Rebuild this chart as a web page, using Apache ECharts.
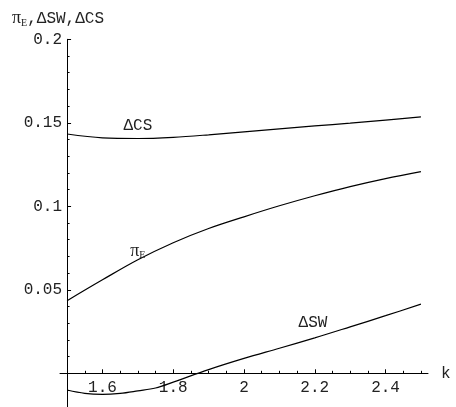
<!DOCTYPE html>
<html>
<head>
<meta charset="utf-8">
<script src="https://cdn.jsdelivr.net/npm/echarts@6/dist/echarts.min.js"></script>
<style>
html,body{margin:0;padding:0;background:#fff;}
#c{width:456px;height:407px;}
</style>
</head>
<body>
<div id="c"></div>
<script>
// ---- data ----
const kValues = [1.5, 1.6, 1.7, 1.8, 1.9, 2.0, 2.1, 2.2, 2.3, 2.4, 2.5];
const piE = [0.0435, 0.0560, 0.0680, 0.0782, 0.0867, 0.0937, 0.1003, 0.1063, 0.1118, 0.1166, 0.1208];
const deltaCS = [0.1433, 0.1410, 0.1406, 0.1413, 0.1428, 0.1446, 0.1464, 0.1481, 0.1498, 0.1516, 0.1535];
const kSW = [1.5, 1.55, 1.6, 1.65, 1.7, 1.75, 1.8, 1.9, 2.0, 2.1, 2.2, 2.3, 2.4, 2.5];
const deltaSW = [-0.0100, -0.0120, -0.0126, -0.0120, -0.0105, -0.0088, -0.0053, 0.0022, 0.0089, 0.0150, 0.0212, 0.0278, 0.0345, 0.0414];

const xMajorTicks = [1.6, 1.8, 2, 2.2, 2.4];
const xMinorTicks = [1.55, 1.65, 1.7, 1.75, 1.85, 1.9, 1.95, 2.05, 2.1, 2.15, 2.25, 2.3, 2.35, 2.45, 2.5];
const yMajorTicks = [0.05, 0.1, 0.15, 0.2];
const yMinorTicks = [-0.01, 0.01, 0.02, 0.03, 0.04, 0.06, 0.07, 0.08, 0.09, 0.11, 0.12, 0.13, 0.14, 0.16, 0.17, 0.18, 0.19];

const xMin = 1.48, xMax = 2.52, yMin = -0.02, yMax = 0.2, yAxisAt = 1.5, xAxisAt = 0;

// ---- layout ----
const gridLeft = 60, gridWidth = 368, gridTop = 39.3, gridHeight = 367.4;
const yOffset = -((yAxisAt - xMin) / (xMax - xMin)) * gridWidth;
const xOffset = -((xAxisAt - yMin) / (yMax - yMin)) * gridHeight;
const mono = 'Liberation Mono';
const ink = '#000';
const textInk = '#222';

function pairs(xs, ys) { return xs.map((x, i) => [x, ys[i]]); }

const chart = echarts.init(document.getElementById('c'), null, {renderer: 'canvas'});

const richText = {
  pi: {fontFamily: 'Liberation Serif', fontSize: 18, color: textInk},
  sub: {fontFamily: 'Liberation Serif', fontSize: 10, color: textInk, padding: [9, 0, 0, 0]}
};

const lineStyle = {color: ink, width: 1.2};
function curve(name, data, label, coord) {
  return {
    name, type: 'line', data, smooth: 0.35, showSymbol: false, symbol: 'none',
    lineStyle, xAxisIndex: 0, yAxisIndex: 0, silent: true,
    markPoint: {
      symbol: 'rect', symbolSize: 1, itemStyle: {color: 'rgba(0,0,0,0)'},
      label: {
        show: true, position: 'inside', formatter: label,
        color: textInk, fontFamily: mono, fontSize: 16, rich: richText
      },
      data: [{coord}]
    }
  };
}

function xAxisBase() {
  return {
    type: 'value', min: xMin, max: xMax, position: 'bottom', offset: xOffset,
    axisLine: {show: false, onZero: false},
    axisTick: {show: false},
    axisLabel: {show: false},
    splitLine: {show: false}
  };
}
function yAxisBase() {
  return {
    type: 'value', min: yMin, max: yMax, position: 'left', offset: yOffset,
    axisLine: {show: false, onZero: false},
    axisTick: {show: false},
    axisLabel: {show: false},
    splitLine: {show: false}
  };
}

const xMain = Object.assign(xAxisBase(), {
  name: 'k', nameLocation: 'end', nameGap: 13,
  nameTextStyle: {fontFamily: mono, fontSize: 16, color: textInk, verticalAlign: 'middle'},
  axisLine: {show: true, onZero: false, lineStyle: {color: ink, width: 1}},
  axisTick: {show: true, inside: true, length: 4, customValues: xMajorTicks, lineStyle: {color: ink, width: 1}},
  axisLabel: {show: true, customValues: xMajorTicks, margin: 6, fontFamily: mono, fontSize: 16, color: textInk,
              showMinLabel: true, showMaxLabel: true, hideOverlap: false}
});
const xMinor = Object.assign(xAxisBase(), {
  axisTick: {show: true, inside: true, length: 2.5, customValues: xMinorTicks, lineStyle: {color: ink, width: 1}}
});
const yMain = Object.assign(yAxisBase(), {
  axisLine: {show: true, onZero: false, lineStyle: {color: ink, width: 1}},
  axisTick: {show: true, inside: true, length: 4, customValues: yMajorTicks, lineStyle: {color: ink, width: 1}},
  axisLabel: {show: true, customValues: yMajorTicks, margin: 5, fontFamily: mono, fontSize: 16, color: textInk}
});
const yMinor = Object.assign(yAxisBase(), {
  axisTick: {show: true, inside: true, length: 2.5, customValues: yMinorTicks, lineStyle: {color: ink, width: 1}}
});

const option = {
  animation: false,
  backgroundColor: '#fff',
  title: {
    text: '{pi|π}{sub|E},ΔSW,ΔCS',
    left: 7, top: 4,
    textStyle: {fontFamily: mono, fontSize: 16, fontWeight: 'normal', color: textInk, rich: richText}
  },
  grid: {left: gridLeft, top: gridTop, width: gridWidth, height: gridHeight, containLabel: false, outerBoundsMode: 'none'},
  xAxis: [xMain, xMinor],
  yAxis: [yMain, yMinor],
  series: [
    curve('ΔCS', pairs(kValues, deltaCS), 'ΔCS', [1.70, 0.1484]),
    curve('πE', pairs(kValues, piE), '{pi|π}{sub|E}', [1.70, 0.0733]),
    curve('ΔSW', pairs(kSW, deltaSW), 'ΔSW', [2.195, 0.0302])
  ]
};
chart.setOption(option);
</script>
</body>
</html>
